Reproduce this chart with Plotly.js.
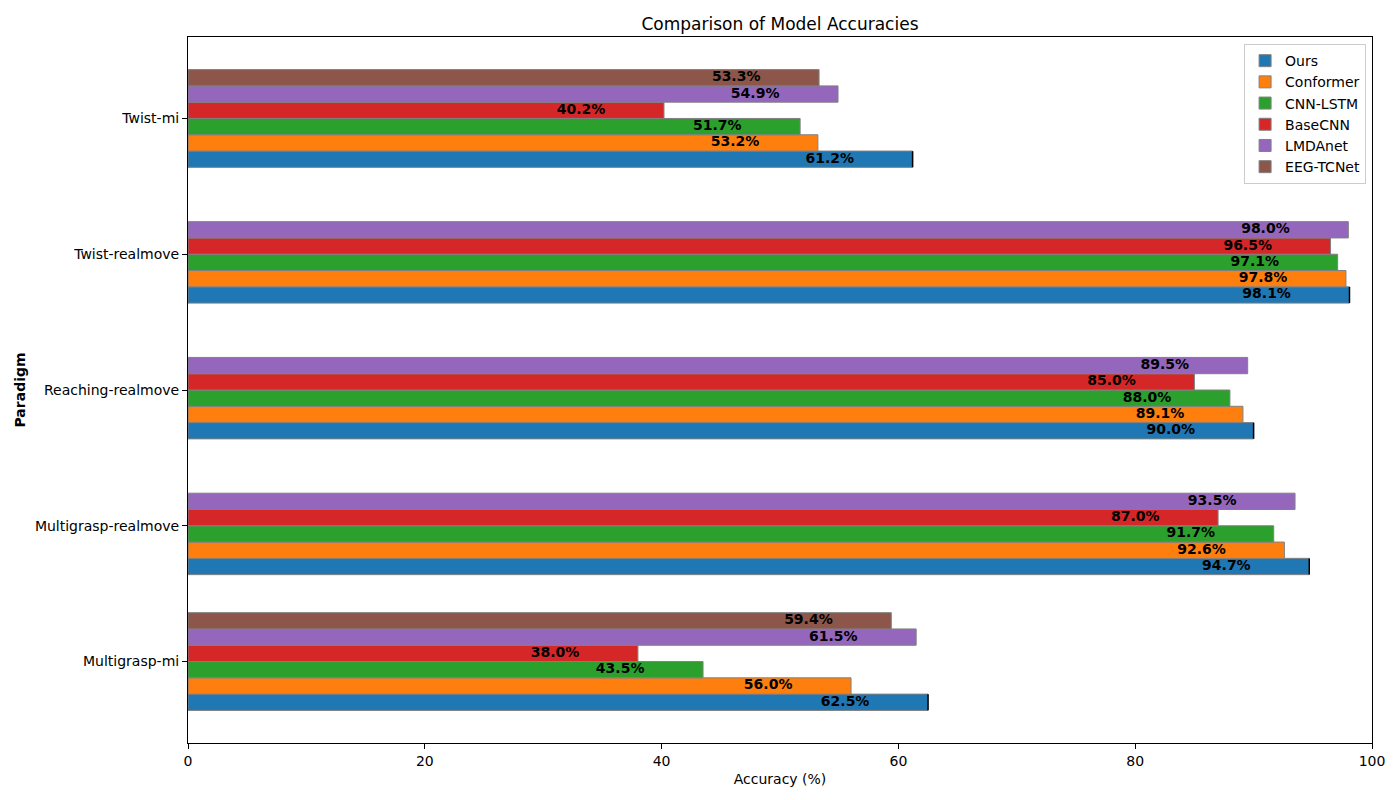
<!DOCTYPE html>
<html>
<head>
<meta charset="utf-8">
<script src="https://cdn.plot.ly/plotly-3.0.1.min.js"></script>
<style>
  body { margin: 0; background: #fff; }
  #myChart { width: 1400px; height: 800px; }
</style>
</head>
<body>
<div id="myChart"></div>
<script>
// paradigms, bottom to top
const paradigms = ["Multigrasp-mi", "Multigrasp-realmove", "Reaching-realmove", "Twist-realmove", "Twist-mi"];

const models = ["Ours", "Conformer", "CNN-LSTM", "BaseCNN", "LMDAnet", "EEG-TCNet"];

// accuracy (%) per model, same order as paradigms (null = not reported)
const ours      = [62.5, 94.7, 90.0, 98.1, 61.2];
const conformer = [56.0, 92.6, 89.1, 97.8, 53.2];
const cnnLstm   = [43.5, 91.7, 88.0, 97.1, 51.7];
const baseCnn   = [38.0, 87.0, 85.0, 96.5, 40.2];
const lmdanet   = [61.5, 93.5, 89.5, 98.0, 54.9];
const eegTcnet  = [59.4, null, null, null, 53.3];

const allValues = [ours, conformer, cnnLstm, baseCnn, lmdanet, eegTcnet];
const colors = ["#1f77b4", "#ff7f0e", "#2ca02c", "#d62728", "#9467bd", "#8c564b"];

const barH = 0.12;
const fontFam = "DejaVu Sans, sans-serif";

let data = [];
let labelX = [], labelY = [], labelT = [];

allValues.forEach(function(vals, i) {
  let ys = [], xs = [];
  vals.forEach(function(v, j) {
    if (v === null) return;
    let y = j + (i - 2.5) * barH;
    ys.push(y);
    xs.push(v);
    labelX.push(v - 7);
    labelY.push(y);
    labelT.push(v.toFixed(1) + "%");
  });
  let trace = {
    type: "bar",
    orientation: "h",
    name: models[i],
    x: xs,
    y: ys,
    width: barH,
    marker: { color: colors[i], line: { color: "#808080", width: 1 } },
    hoverinfo: "x+name"
  };
  if (i === 0) {
    trace.error_x = { type: "constant", value: 0, width: 8, thickness: 1.5, color: "#000" };
  }
  data.push(trace);
});

data.push({
  type: "scatter",
  mode: "text",
  x: labelX,
  y: labelY,
  text: labelT,
  textposition: "middle center",
  textfont: { family: fontFam, size: 14, color: "#000", weight: "bold" },
  showlegend: false,
  hoverinfo: "skip",
  cliponaxis: false
});

const layout = {
  width: 1400,
  height: 800,
  barmode: "overlay",
  paper_bgcolor: "#fff",
  plot_bgcolor: "#fff",
  font: { family: fontFam, size: 14, color: "#000" },
  margin: { l: 188, r: 28, t: 37, b: 57 },
  title: {
    text: "Comparison of Model Accuracies",
    font: { family: fontFam, size: 17, color: "#000" },
    x: 0.5, xref: "paper", xanchor: "center",
    y: 1, yref: "paper", yanchor: "bottom", pad: { b: 7 }
  },
  xaxis: {
    range: [0, 100],
    tickvals: [0, 20, 40, 60, 80, 100],
    ticks: "outside", ticklen: 5, tickcolor: "#000",
    showgrid: false, zeroline: false,
    showline: true, linecolor: "#000", linewidth: 1, mirror: true,
    title: { text: "Accuracy (%)", font: { family: fontFam, size: 14 }, standoff: 6 }
  },
  yaxis: {
    range: [-0.6, 4.6],
    tickvals: [0, 1, 2, 3, 4],
    ticktext: paradigms,
    ticks: "outside", ticklen: 5, tickcolor: "#000",
    showgrid: false, zeroline: false,
    showline: true, linecolor: "#000", linewidth: 1, mirror: true,
    title: { text: "<b>Paradigm</b>", font: { family: fontFam, size: 14 }, standoff: 5 }
  },
  legend: {
    x: 0.995, y: 0.99, xanchor: "right", yanchor: "top",
    traceorder: "normal",
    bgcolor: "rgba(255,255,255,0.8)",
    bordercolor: "#cccccc", borderwidth: 1,
    font: { family: fontFam, size: 14 }
  },
  showlegend: true
};

Plotly.newPlot("myChart", data, layout, { displayModeBar: false });
</script>
</body>
</html>
